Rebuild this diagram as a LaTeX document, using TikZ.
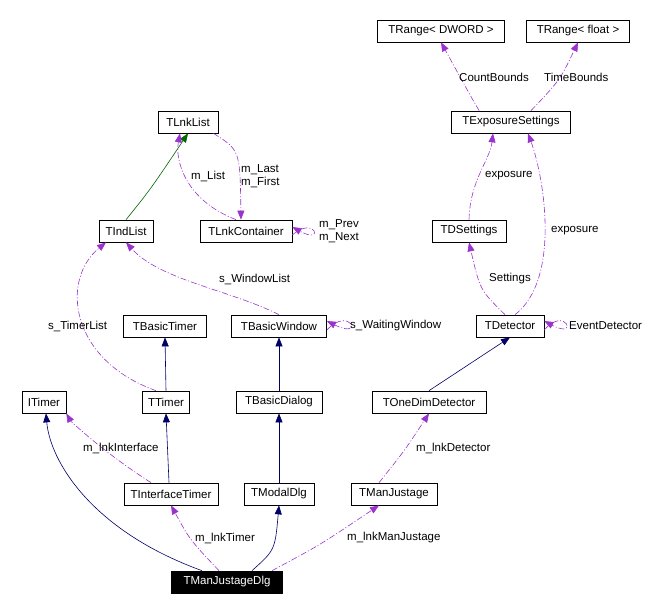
\documentclass[tikz,border=0pt]{standalone}
\usepackage{fontspec}
\setmainfont{Liberation Sans}
\usetikzlibrary{arrows.meta}
\definecolor{dp}{HTML}{9A32CD}
\begin{document}
\begin{tikzpicture}[x=1pt,y=-1pt,
 box/.style={draw,line width=0.7pt,inner sep=0pt,minimum height=22pt,font=\fontsize{11.5}{13}\selectfont},
 use/.style={draw=dp,dash pattern=on 6pt off 2pt on 1pt off 2pt,-{Triangle[length=9pt,width=7pt]},color=dp,line width=0.6pt},
 inh/.style={draw=blue!40!black,-{Triangle[length=9pt,width=7pt]},line width=0.6pt},
 tmpl/.style={draw=green!40!black,-{Triangle[length=9pt,width=7pt]},line width=0.6pt},
 lbl/.style={font=\fontsize{11.5}{13}\selectfont,text=black,inner sep=1pt}]
\useasboundingbox (0,0) rectangle (655,614);
\node[box,minimum width=127pt] (rd) at (441,31) {TRange< DWORD >};
\node[box,minimum width=103pt] (rf) at (578,31) {TRange< float >};
\node[box,minimum width=119pt] (es) at (511,122) {TExposureSettings};
\node[box,minimum width=60pt] (ll) at (188,122) {TLnkList};
\node[box,minimum width=54pt] (il) at (126,231) {TIndList};
\node[box,minimum width=92pt] (lc) at (246,231) {TLnkContainer};
\node[box,minimum width=74pt] (ds) at (469,231) {TDSettings};
\node[box,minimum width=83pt] (bt) at (165,326) {TBasicTimer};
\node[box,minimum width=95pt] (bw) at (279,326) {TBasicWindow};
\node[box,minimum width=68pt] (de) at (510,326) {TDetector};
\node[box,minimum width=44pt] (it) at (44,402) {ITimer};
\node[box,minimum width=47pt] (tt) at (166,402) {TTimer};
\node[box,minimum width=86pt] (bd) at (279,402) {TBasicDialog};
\node[box,minimum width=114pt] (od) at (429,402) {TOneDimDetector};
\node[box,minimum width=94pt] (ti) at (171,494) {TInterfaceTimer};
\node[box,minimum width=70pt] (md) at (279,494) {TModalDlg};
\node[box,minimum width=86pt] (mj) at (394,494) {TManJustage};
\node[box,minimum width=111pt,fill=black,text=white] (dlg) at (227,582) {TManJustageDlg};

\draw[use] ([xshift=28pt]es.north west) .. controls (470,95) .. (rd.south);
\node[lbl,anchor=west] (cbl) at (458,77) {CountBounds};
\draw[use] ([xshift=20pt]es.north) .. controls (560,80) .. (rf.south);
\node[lbl,anchor=west] (tbl) at (543,77) {TimeBounds};
\draw[use] (ds.north) .. controls (470,180) and (490,160) .. ([xshift=-18pt]es.south);
\node[lbl,anchor=west] (ex1) at (484,176) {exposure};
\draw[use] ([xshift=5pt]de.north) .. controls (560,280) and (545,180) .. ([xshift=17pt]es.south);
\node[lbl,anchor=west] (ex2) at (550,231) {exposure};
\draw[use] ([xshift=-5pt]de.north) .. controls (480,290) .. (ds.south);
\node[lbl,anchor=west] (set) at (488,279) {Settings};
\draw[use] ([yshift=-4pt]de.east) .. controls (565,305) and (580,340) .. ([yshift=5pt]de.east);
\node[lbl,anchor=west] (evd) at (568,326) {EventDetector};
\draw[inh] (od.north) -- (de.south);
\draw[use] ([xshift=-15pt]mj.north) .. controls (405,450) .. (od.south);
\node[lbl,anchor=west] (mld) at (415,448) {m\_lnkDetector};
\draw[tmpl] (il.north) .. controls (150,190) .. (ll.south);
\draw[use] ([xshift=-10pt]lc.north) .. controls (185,200) and (175,160) .. ([xshift=-8pt]ll.south);
\node[lbl,anchor=west] (mlst) at (190,176) {m\_List};
\draw[use] ([xshift=-5pt]ll.south east) .. controls (240,150) .. ([xshift=-5pt]lc.north);
\node[lbl,anchor=west,align=left] (mlf) at (240,176) {m\_Last\\m\_First};
\draw[use] ([yshift=-4pt]lc.east) .. controls (315,215) and (325,245) .. ([yshift=4pt]lc.east);
\node[lbl,anchor=west,align=left] (mpn) at (318,231) {m\_Prev\\m\_Next};
\draw[use] (bw.north) .. controls (230,290) and (160,280) .. (il.south);
\node[lbl,anchor=west] (swl) at (218,279) {s\_WindowList};
\draw[use] ([yshift=-4pt]bw.east) .. controls (350,305) and (365,340) .. ([yshift=5pt]bw.east);
\node[lbl,anchor=west] (sww) at (349,326) {s\_WaitingWindow};
\draw[use] ([xshift=-10pt]tt.north) .. controls (70,360) and (60,280) .. ([xshift=-20pt]il.south);
\node[lbl,anchor=west] (stl) at (47,326) {s\_TimerList};
\draw[inh] (tt.north) -- (bt.south);
\draw[inh] (bd.north) -- (bw.south);
\draw[inh] (md.north) -- (bd.south);
\draw[inh] ([xshift=-2pt]ti.north) -- (tt.south);
\draw[use] ([xshift=-20pt]ti.north) .. controls (100,450) and (70,420) .. (it.south east);
\node[lbl,anchor=west] (mli) at (82,448) {m\_lnkInterface};
\draw[inh] ([xshift=-25pt]dlg.north) .. controls (90,530) and (50,460) .. ([xshift=2pt]it.south);
\draw[use] ([xshift=-8pt]dlg.north) .. controls (190,540) .. (ti.south);
\node[lbl,anchor=west] (mlt) at (194,538) {m\_lnkTimer};
\draw[inh] ([xshift=25pt]dlg.north) .. controls (275,550) .. (md.south);
\draw[use] ([xshift=45pt]dlg.north) .. controls (320,545) .. ([xshift=-15pt]mj.south);
\node[lbl,anchor=west] (mlm) at (346,538) {m\_lnkManJustage};
\end{tikzpicture}
\end{document}
